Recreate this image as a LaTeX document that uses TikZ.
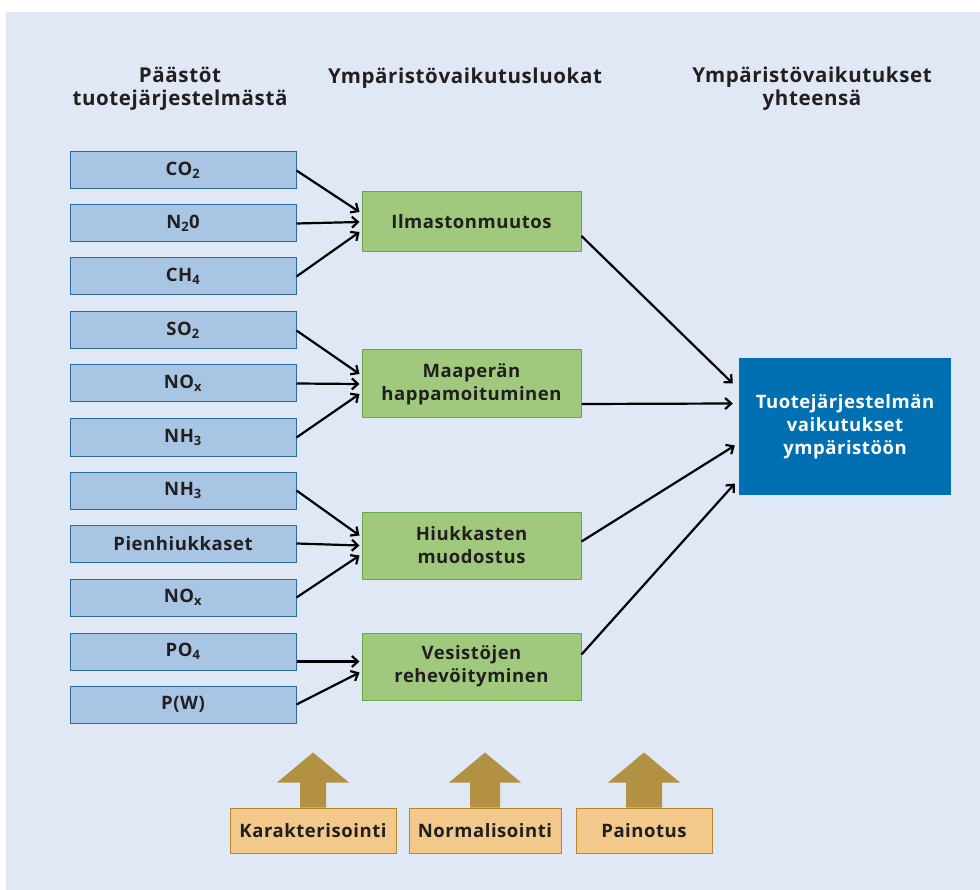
\documentclass[tikz,border=0pt]{standalone}
\usepackage{fontspec}
\setmainfont{Open Sans}[LetterSpace=3]
\usepackage{tikz}
\usetikzlibrary{arrows.meta, positioning, calc}
\definecolor{bgBlue}{HTML}{DFE8F4}
\definecolor{emFill}{HTML}{A8C5E3}
\definecolor{emLine}{HTML}{2A6BA3}
\definecolor{catFill}{HTML}{A0C97E}
\definecolor{catLine}{HTML}{6BA84A}
\definecolor{totBlue}{HTML}{0070B3}
\definecolor{stepFill}{HTML}{F2C98A}
\definecolor{stepLine}{HTML}{B5862A}
\definecolor{upBrown}{HTML}{B39142}
\definecolor{inkDark}{HTML}{231F20}

\begin{document}
\begin{tikzpicture}[x=1pt, y=-1pt,
    emission/.style={draw=emLine, fill=emFill, line width=1pt, minimum width=226pt, minimum height=37pt, inner sep=0pt, font=\fontsize{18.5}{21}\selectfont\bfseries, text=inkDark},
    category/.style={draw=catLine, fill=catFill, line width=1pt, minimum width=219pt, inner sep=0pt, align=center, font=\fontsize{18.5}{23}\selectfont\bfseries, text=inkDark},
    stepbox/.style={draw=stepLine, fill=stepFill, line width=1pt, minimum height=45pt, inner sep=0pt, font=\fontsize{18.5}{21}\selectfont\bfseries, text=inkDark},
    header/.style={align=center, font=\fontsize{20.5}{23}\selectfont\bfseries, text=inkDark},
    link/.style={-{Straight Barb[length=6pt, width=11pt]}, line width=2.2pt},
]
    \useasboundingbox (0,0) rectangle (980,890);
    \fill[bgBlue] (6,12) rectangle (980,890);

    % Headers
    \node[header] (hEm) at (180, 89) {Päästöt\\tuotejärjestelmästä};
    \node[header] (hCat) at (465, 78) {Ympäristövaikutusluokat};
    \node[header] (hTot) at (812, 89) {Ympäristövaikutukset\\yhteensä};

    % Emissions
    \node[emission] (co2) at (183, 170.5) {CO\textsubscript{2}};
    \node[emission] (n2o) at (183, 223.5) {N\textsubscript{2}0};
    \node[emission] (ch4) at (183, 276.5) {CH\textsubscript{4}};
    \node[emission] (so2) at (183, 330.5) {SO\textsubscript{2}};
    \node[emission] (noxA) at (183, 383.5) {NO\textsubscript{x}};
    \node[emission] (nh3A) at (183, 437.5) {NH\textsubscript{3}};
    \node[emission] (nh3B) at (183, 490.5) {NH\textsubscript{3}};
    \node[emission] (pm) at (183, 543.5) {Pienhiukkaset};
    \node[emission] (noxB) at (183, 597.5) {NO\textsubscript{x}};
    \node[emission] (po4) at (183, 651.5) {PO\textsubscript{4}};
    \node[emission] (pw) at (183, 704.5) {P(W)};

    % Impact categories
    \node[category, minimum height=60pt] (climate) at (471.5, 222) {Ilmastonmuutos};
    \node[category, minimum height=68pt] (acid) at (471.5, 384) {Maaperän\\happamoituminen};
    \node[category, minimum height=67pt] (particle) at (471.5, 545.5) {Hiukkasten\\muodostus};
    \node[category, minimum height=67pt] (eutro) at (471.5, 666.5) {Vesistöjen\\rehevöityminen};

    % Total
    \node[fill=totBlue, minimum width=212pt, minimum height=137pt, inner sep=0pt, align=center, text=white, font=\fontsize{18.5}{23}\selectfont\bfseries] (total) at (845, 426.5) {Tuotejärjestelmän\\vaikutukset\\ympäristöön};

    % Emissions to categories
    \draw[link] (co2.east) -- ([shift={(-2,-10)}]climate.west);
    \draw[link] (n2o.east) -- ([xshift=-2pt]climate.west);
    \draw[link] (ch4.east) -- ([shift={(-2,10)}]climate.west);
    \draw[link] (so2.east) -- ([shift={(-2,-10)}]acid.west);
    \draw[link] (noxA.east) -- ([xshift=-2pt]acid.west);
    \draw[link] (nh3A.east) -- ([shift={(-2,10)}]acid.west);
    \draw[link] (nh3B.east) -- ([shift={(-2,-10)}]particle.west);
    \draw[link] (pm.east) -- ([xshift=-2pt]particle.west);
    \draw[link] (noxB.east) -- ([shift={(-2,10)}]particle.west);
    \draw[link] ([yshift=-10pt]po4.east) -- ([shift={(-2,-5)}]eutro.west);
    \draw[link] (pw.east) -- ([shift={(-2,6)}]eutro.west);

    % Categories to total
    \draw[link] ([yshift=-14pt]climate.east) -- ([shift={(-6,-43)}]total.west);
    \draw[link] ([yshift=-20pt]acid.east) -- ([shift={(-6,-23)}]total.west);
    \draw[link] ([yshift=4pt]particle.east) -- ([shift={(-4,19)}]total.west);
    \draw[link] ([yshift=12pt]eutro.east) -- ([shift={(-4,57)}]total.west);

    % Method steps
    \node[stepbox, minimum width=166pt] (charact) at (313, 830.5) {Karakterisointi};
    \node[stepbox, minimum width=152pt] (normal) at (485, 830.5) {Normalisointi};
    \node[stepbox, minimum width=136pt] (weight) at (644, 830.5) {Painotus};

    \fill[upBrown] ($(charact.north)+(-13,0)$) -- ++(0,-25) -- ++(-23,0) -- ++(36,-30) -- ++(36,30) -- ++(-23,0) -- ++(0,25) -- cycle;
    \fill[upBrown] ($(normal.north)+(-15,0)$) -- ++(0,-25) -- ++(-21,0) -- ++(36,-30) -- ++(36,30) -- ++(-21,0) -- ++(0,25) -- cycle;
    \fill[upBrown] ($(weight.north)+(-18,0)$) -- ++(0,-25) -- ++(-18,0) -- ++(36,-30) -- ++(36,30) -- ++(-18,0) -- ++(0,25) -- cycle;
\end{tikzpicture}
\end{document}
